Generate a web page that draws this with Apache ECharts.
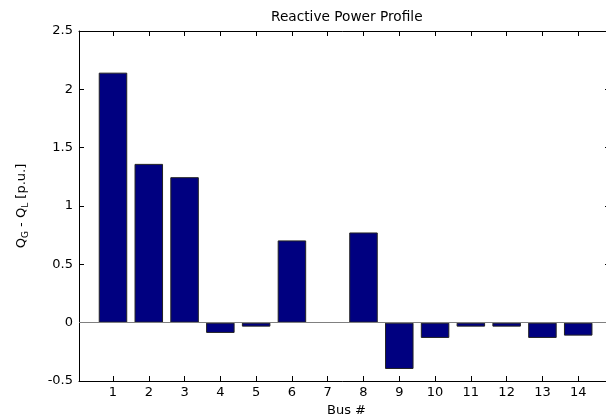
<!DOCTYPE html>
<html>
<head>
<meta charset="utf-8">
<script src="https://cdn.jsdelivr.net/npm/echarts@6/dist/echarts.min.js"></script>
<style>
  html, body { margin: 0; padding: 0; background: #fff; }
  #chart { width: 606px; height: 419px; }
</style>
</head>
<body>
<div id="chart"></div>
<script>
const buses = [1, 2, 3, 4, 5, 6, 7, 8, 9, 10, 11, 12, 13, 14];
const qValues = [2.143, 1.361, 1.247, -0.088, -0.034, 0.705, 0, 0.773, -0.397, -0.131, -0.034, -0.034, -0.131, -0.111];
const yTicks = [-0.5, 0, 0.5, 1, 1.5, 2, 2.5];

const FONT = "'DejaVu Sans', sans-serif";
const chart = echarts.init(document.getElementById('chart'));

const xCommon = {
  type: 'value',
  min: 0.05,
  max: 15,
  splitLine: { show: false },
  axisLine: { show: true, onZero: false, lineStyle: { color: '#000', width: 1 } },
  axisTick: { show: true, inside: true, length: 5, customValues: buses, lineStyle: { color: '#000' } }
};

const yCommon = {
  type: 'value',
  min: -0.5,
  max: 2.5,
  interval: 0.5,
  splitLine: { show: false },
  axisTick: { show: true, inside: true, length: 5, lineStyle: { color: '#000' } }
};

chart.setOption({
  animation: false,
  backgroundColor: '#fff',
  title: {
    text: 'Reactive Power Profile',
    left: 266,
    top: 5,
    textStyle: { fontFamily: FONT, fontSize: 13.7, fontWeight: 'normal', color: '#000' }
  },
  grid: { left: 79, top: 31, width: 535, height: 350, outerBoundsMode: 'none', containLabel: false },
  xAxis: [
    Object.assign({}, xCommon, {
      position: 'bottom',
      name: 'Bus #',
      nameLocation: 'middle',
      nameGap: 22,
      nameTextStyle: { fontFamily: FONT, fontSize: 13, color: '#000' },
      axisLabel: {
        show: true, margin: 5, customValues: buses,
        fontFamily: FONT, fontSize: 13, color: '#000'
      }
    }),
    Object.assign({}, xCommon, {
      position: 'top',
      axisLabel: { show: false }
    })
  ],
  yAxis: [
    Object.assign({}, yCommon, {
      position: 'left',
      axisLine: { show: true, onZero: false, lineStyle: { color: '#000', width: 1 } },
      axisLabel: { margin: 6, fontFamily: FONT, fontSize: 13, color: '#000',
        customValues: yTicks },
      name: '{q|Q}{s|G}{q| - Q}{s|L}{q| [p.u.]}',
      nameLocation: 'middle',
      nameRotate: 90,
      nameGap: 51,
      nameTextStyle: {
        fontFamily: FONT, color: '#000',
        rich: {
          q: { fontFamily: FONT, fontSize: 13, lineHeight: 13, verticalAlign: 'top', color: '#000' },
          s: { fontFamily: FONT, fontSize: 9, lineHeight: 9, padding: [6, 0, 0, 0], verticalAlign: 'top', color: '#000' }
        }
      }
    }),
    Object.assign({}, yCommon, {
      position: 'right',
      offset: -4,
      axisLine: { show: false, onZero: false },
      axisLabel: { show: false }
    })
  ],
  series: [{
    type: 'bar',
    xAxisIndex: 0,
    yAxisIndex: 0,
    barWidth: 28.5,
    data: buses.map((b, i) => ({
      value: [b, qValues[i]],
      itemStyle: qValues[i] === 0 ? { borderWidth: 0, opacity: 0 } : undefined
    })),
    itemStyle: { color: '#000080', borderColor: '#222', borderWidth: 1 },
    markLine: {
      silent: true,
      symbol: 'none',
      label: { show: false },
      lineStyle: { color: '#808080', type: 'solid', width: 1.2 },
      data: [{ yAxis: 0 }]
    }
  }]
});
</script>
</body>
</html>
